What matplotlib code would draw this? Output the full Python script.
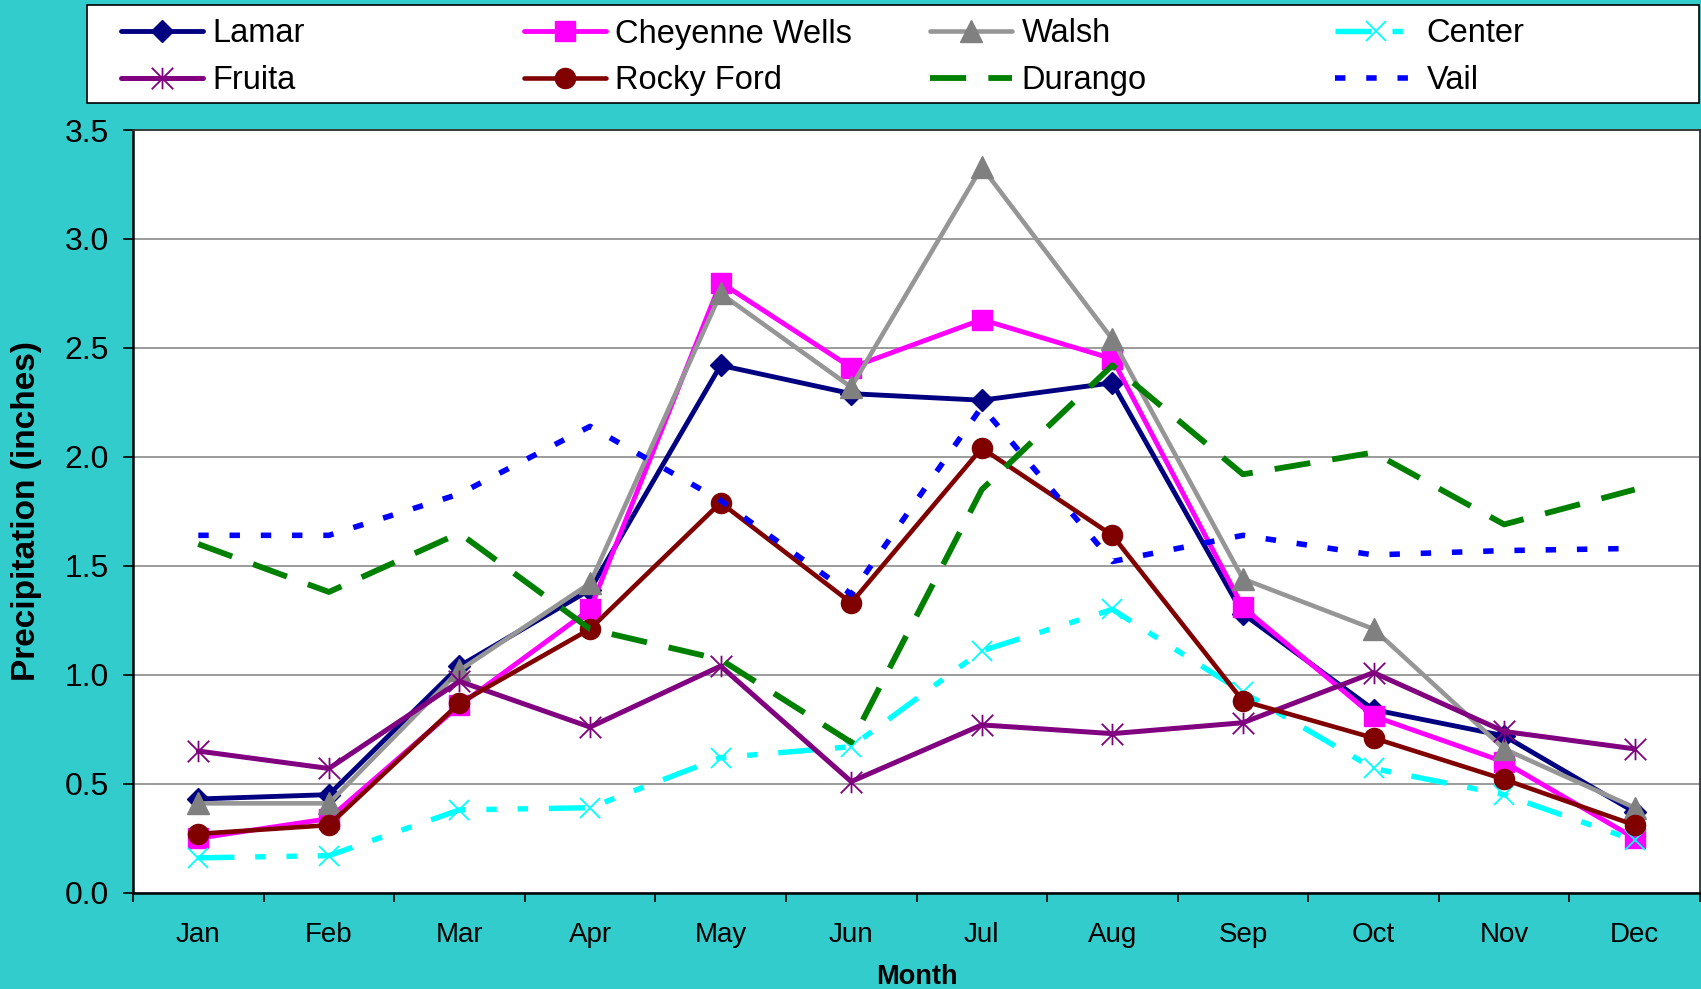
import numpy as np
import matplotlib
matplotlib.use("Agg")
import matplotlib.pyplot as plt
from matplotlib.path import Path
from matplotlib.patches import Rectangle

plt.rcParams['font.family'] = ['Liberation Sans', 'DejaVu Sans']
plt.rcParams['lines.scale_dashes'] = False

months = ['Jan', 'Feb', 'Mar', 'Apr', 'May', 'Jun', 'Jul', 'Aug', 'Sep', 'Oct', 'Nov', 'Dec']

lamar = [0.43, 0.45, 1.04, 1.39, 2.42, 2.29, 2.26, 2.34, 1.28, 0.84, 0.72, 0.37]
cheyenne_wells = [0.25, 0.34, 0.86, 1.30, 2.80, 2.41, 2.63, 2.45, 1.31, 0.81, 0.60, 0.25]
walsh = [0.41, 0.41, 1.02, 1.42, 2.75, 2.32, 3.33, 2.54, 1.44, 1.21, 0.66, 0.39]
center = [0.16, 0.17, 0.38, 0.39, 0.62, 0.67, 1.11, 1.30, 0.92, 0.57, 0.45, 0.24]
fruita = [0.65, 0.57, 0.97, 0.76, 1.04, 0.51, 0.77, 0.73, 0.78, 1.01, 0.74, 0.66]
rocky_ford = [0.27, 0.31, 0.87, 1.21, 1.79, 1.33, 2.04, 1.64, 0.88, 0.71, 0.52, 0.31]
durango = [1.60, 1.38, 1.65, 1.21, 1.07, 0.69, 1.85, 2.42, 1.92, 2.02, 1.69, 1.85]
vail = [1.64, 1.64, 1.83, 2.14, 1.80, 1.37, 2.23, 1.52, 1.64, 1.55, 1.57, 1.58]

BG = '#33CCCC'

# excel style "star" marker: vertical bar plus an X
star = Path([(0, -1), (0, 1), (-1, -1), (1, 1), (-1, 1), (1, -1)],
            [Path.MOVETO, Path.LINETO] * 3)

series = [
    dict(label='Lamar', y=lamar, color='#000080', marker='D', ms=11, mfc='#000080', mec='#000080', lw=3.5, ls='-'),
    dict(label='Cheyenne Wells', y=cheyenne_wells, color='#FF00FF', marker='s', ms=14.5, mfc='#FF00FF', mec='#FF00FF', lw=3.5, ls='-'),
    dict(label='Walsh', y=walsh, color='#969696', marker='^', ms=15.5, mfc='#808080', mec='#808080', lw=3.3, ls='-'),
    dict(label='Center', y=center, color='#00FFFF', marker='x', ms=15, mfc='#00FFFF', mec='#00FFFF', lw=3.9,
         ls=(0, (26, 15, 7.5, 15, 7.5, 15)), mew=1.3),
    dict(label='Fruita', y=fruita, color='#800080', marker=star, ms=15.5, mfc='none', mec='#800080', lw=3.6, ls='-', mew=1.3),
    dict(label='Rocky Ford', y=rocky_ford, color='#800000', marker='o', ms=14.5, mfc='#800000', mec='#800000', lw=3.3, ls='-'),
    dict(label='Durango', y=durango, color='#008000', marker='None', ms=0, mfc='none', mec='none', lw=4.2,
         ls=(0, (26, 16))),
    dict(label='Vail', y=vail, color='#0000FF', marker='None', ms=0, mfc='none', mec='none', lw=4.0,
         ls=(0, (7.5, 15))),
]

W, H = 1701, 989
fig = plt.figure(figsize=(W / 100, H / 100), dpi=100)
fig.patch.set_facecolor(BG)

ax_l, ax_r, ax_t, ax_b = 133, 1700, 130, 892.7
ax = fig.add_axes([ax_l / W, 1 - ax_b / H, (ax_r - ax_l) / W, (ax_b - ax_t) / H])
ax.set_facecolor('white')

x = np.arange(1, len(months) + 1)
handles = []
for s in series:
    line, = ax.plot(x, s['y'], color=s['color'], lw=s['lw'], linestyle=s['ls'],
                    marker=s['marker'], markersize=s['ms'], markerfacecolor=s['mfc'],
                    markeredgecolor=s['mec'], markeredgewidth=s.get('mew', 1.0),
                    dash_capstyle='butt', solid_capstyle='round', solid_joinstyle='round',
                    label=s['label'], zorder=3)
    handles.append(line)

ax.set_xlim(0.5, 12.5)
ax.set_ylim(0, 3.5)
ax.set_yticks(np.arange(0, 3.51, 0.5))
ax.set_yticklabels([f'{v:.1f}' for v in np.arange(0, 3.51, 0.5)])
ax.yaxis.grid(True, color='#808080', lw=1.1, zorder=1)
ax.set_axisbelow(True)

ax.set_xticks(np.arange(0.5, 12.6, 1.0))
ax.set_xticklabels([])
ax.set_xticks(x, minor=True)
ax.set_xticklabels(months, minor=True, fontsize=20)
ax.tick_params(axis='x', which='major', direction='out', length=6.5, width=1.2, color='black')
ax.tick_params(axis='x', which='minor', length=0, pad=21)
ax.tick_params(axis='y', direction='out', length=7.5, width=1.2, pad=10, labelsize=23)

for side in ['left', 'bottom']:
    ax.spines[side].set_color('black')
    ax.spines[side].set_linewidth(1.8)
for side in ['top', 'right']:
    ax.spines[side].set_color('#333333')
    ax.spines[side].set_linewidth(1.3)

ax.set_ylabel('Precipitation (inches)', fontsize=24, fontweight='bold', va='center')
ax.yaxis.set_label_coords((26 - ax_l) / (ax_r - ax_l), 0.5)
ax.set_xlabel('Month', fontsize=19.5, fontweight='bold', va='center')
ax.xaxis.set_label_coords(0.5, -(977 - ax_b) / (ax_b - ax_t))

# legend box spanning the top of the figure
fig.patches.append(Rectangle((87 / W, 1 - 103 / H), (1699 - 87) / W, 98 / H,
                             transform=fig.transFigure, facecolor='white',
                             edgecolor='black', lw=1.2, zorder=0))

col_x = [121, 524, 930, 1335]
order = [[0, 4], [1, 5], [2, 6], [3, 7]]
for cx, idx in zip(col_x, order):
    fig.legend([handles[i] for i in idx], [series[i]['label'] for i in idx],
               loc='upper left', bbox_to_anchor=(cx / W, 1 - 18.5 / H),
               frameon=False, fontsize=23.5, handlelength=2.5, handletextpad=0.3,
               labelspacing=0.48, borderpad=0, borderaxespad=0, numpoints=1)

fig.savefig('out.png', dpi=100, facecolor=BG)
